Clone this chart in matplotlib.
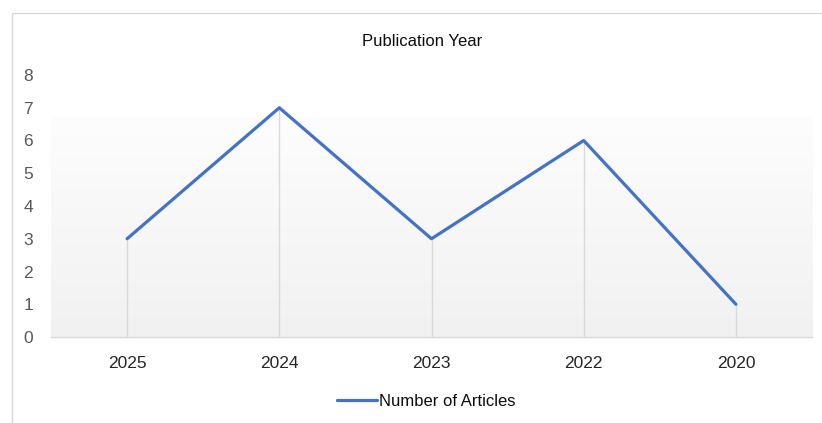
import matplotlib
matplotlib.use("Agg")
import matplotlib.pyplot as plt
import numpy as np
from matplotlib.patches import Rectangle

categories = ["2025", "2024", "2023", "2022", "2020"]
articles = [3, 7, 3, 6, 1]
y_ticks = [0, 1, 2, 3, 4, 5, 6, 7, 8]

plt.rcParams['font.family'] = ['Liberation Sans', 'DejaVu Sans']

W, H = 822, 423
fig = plt.figure(figsize=(W / 100, H / 100), dpi=100)
fig.patch.set_facecolor("white")

# chart border (extends past right/bottom edge)
fig.patches.append(Rectangle((12 / W, -0.1), 1.2, (H - 13) / H + 0.1,
                             transform=fig.transFigure, fill=False,
                             edgecolor="#D9D9D9", linewidth=1.0))

ax = fig.add_axes([51 / W, (H - 337) / H, (812 - 51) / W, (337 - 75) / H])
ax.set_facecolor("none")

x = np.arange(len(categories))
ax.set_xlim(-0.5, len(categories) - 0.5)
ax.set_ylim(0, 8)

# gradient plot-area fill
grad = np.linspace(0, 1, 256).reshape(-1, 1)
top_c = np.array([0xFD, 0xFD, 0xFD]) / 255
bot_c = np.array([0xF1, 0xF1, 0xF1]) / 255
img = top_c[None, None, :] * (1 - grad[:, :, None]) + bot_c[None, None, :] * grad[:, :, None]
img = img[::-1]
ax.imshow(img, extent=(-0.5, len(categories) - 0.5, 0, 6.69), aspect="auto",
          origin="lower", zorder=0)

# drop lines
ax.vlines(x, 0, articles, colors="#D9D9D9", linewidth=1.0, zorder=1)
ax.plot(x, articles, color="#4472C4", linewidth=2.3, solid_capstyle="round",
        solid_joinstyle="round", zorder=3, label="Number of Articles")

for s in ["top", "right", "left"]:
    ax.spines[s].set_visible(False)
ax.spines["bottom"].set_color("#D9D9D9")
ax.spines["bottom"].set_linewidth(1.0)

ax.set_xticks(x)
ax.set_xticklabels(categories, fontsize=12.5, color="#262626")
ax.set_yticks(y_ticks)
ax.set_yticklabels([str(v) for v in y_ticks], fontsize=12.5, color="#595959")
ax.tick_params(axis="x", length=0, pad=14)
ax.tick_params(axis="y", length=0, pad=13)

fig.text(422 / W, 1 - 41 / H, "Publication Year", ha="center", va="center",
         fontsize=12, color="#0D0D0D")

leg = ax.legend(loc="center", bbox_to_anchor=(426 / W, 1 - 401 / H),
                bbox_transform=fig.transFigure, frameon=False, fontsize=12,
                handlelength=2.4, handletextpad=0.1)
for t in leg.get_texts():
    t.set_color("#0D0D0D")

fig.savefig("out.png", dpi=100, facecolor="white")
